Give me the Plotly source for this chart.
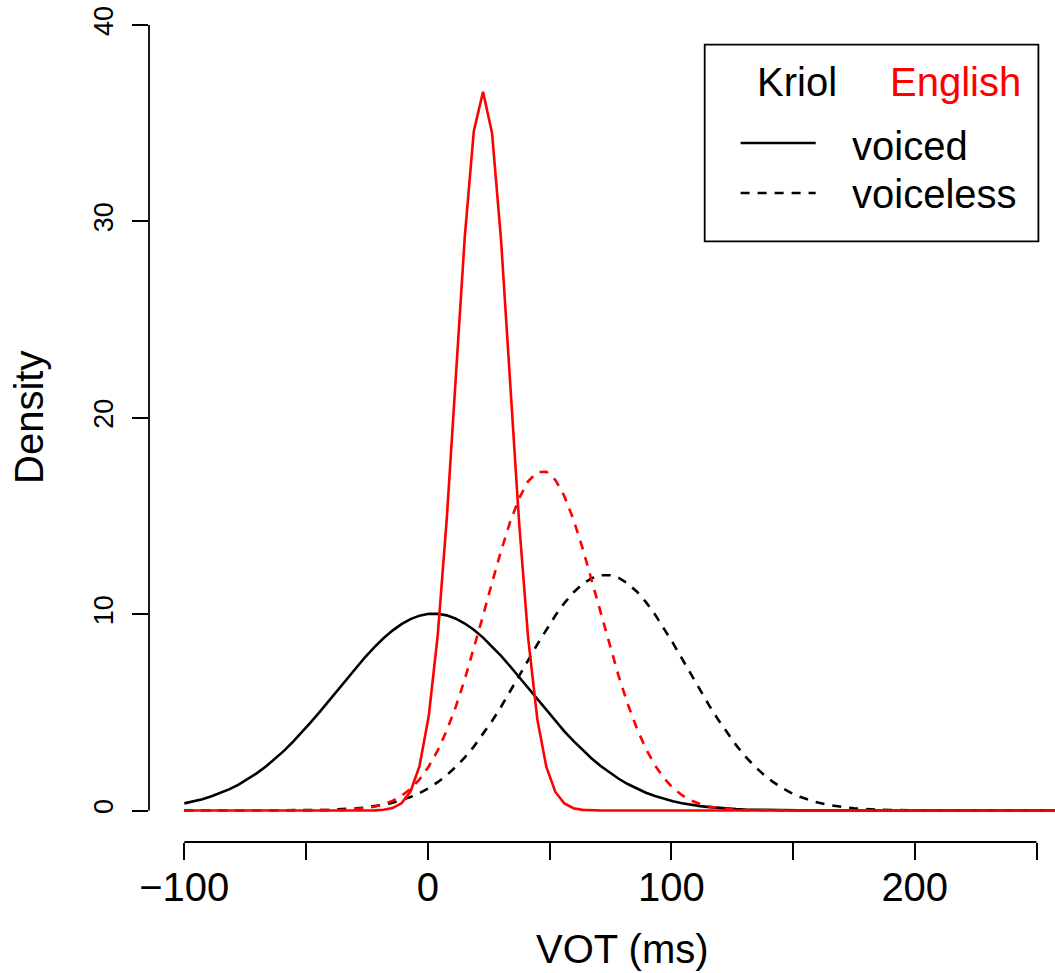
import plotly.graph_objects as go

# ---- data ----
vot = [-100.0, -96.3, -92.6, -88.8, -85.1, -81.4, -77.7, -74.0, -70.3, -66.5,
       -62.8, -59.1, -55.4, -51.7, -48.0, -44.2, -40.5, -36.8, -33.1, -29.4,
       -25.7, -21.9, -18.2, -14.5, -10.8, -7.1, -3.4, 0.4, 4.1, 7.8,
       11.5, 15.2, 18.9, 22.7, 26.4, 30.1, 33.8, 37.5, 41.2, 45.0,
       48.7, 52.4, 56.1, 59.8, 63.5, 67.3, 71.0, 74.7, 78.4, 82.1,
       85.9, 89.6, 93.3, 97.0, 100.7, 104.4, 108.2, 111.9, 115.6, 119.3,
       123.0, 126.7, 130.5, 134.2, 137.9, 141.6, 145.3, 149.0, 152.8, 156.5,
       160.2, 163.9, 167.6, 171.3, 175.1, 178.8, 182.5, 186.2, 189.9, 193.6,
       197.4, 201.1, 204.8, 208.5, 212.2, 215.9, 219.7, 223.4, 227.1, 230.8,
       234.5, 238.2, 242.0, 245.7, 249.4, 253.1, 256.8, 260.5, 264.3, 268.0]

kriol_voiced = [0.366, 0.464, 0.581, 0.727, 0.895, 1.093, 1.324, 1.589, 1.892, 2.241,
                2.622, 3.039, 3.493, 3.982, 4.499, 5.053, 5.611, 6.174, 6.738, 7.290,
                7.817, 8.324, 8.772, 9.165, 9.493, 9.748, 9.924, 10.017, 10.021, 9.938,
                9.771, 9.525, 9.205, 8.806, 8.363, 7.872, 7.348, 6.798, 6.237, 5.656,
                5.098, 4.557, 4.036, 3.546, 3.087, 2.654, 2.271, 1.926, 1.620, 1.351,
                1.110, 0.910, 0.739, 0.595, 0.475, 0.376, 0.293, 0.228, 0.176, 0.134,
                0.102, 0.076, 0.056, 0.042, 0.031, 0.022, 0.016, 0.011, 0.008, 0.005,
                0.004, 0.003, 0.002, 0.001, 0.0, 0.0, 0.0, 0.0, 0.0, 0.0,
                0.0, 0.0, 0.0, 0.0, 0.0, 0.0, 0.0, 0.0, 0.0, 0.0,
                0.0, 0.0, 0.0, 0.0, 0.0, 0.0, 0.0, 0.0, 0.0, 0.0]

kriol_voiceless = [0.0, 0.0, 0.0, 0.0, 0.0, 0.0, 0.0, 0.0, 0.0, 0.0,
                   0.001, 0.003, 0.006, 0.012, 0.018, 0.026, 0.039, 0.056, 0.080, 0.112,
                   0.156, 0.217, 0.295, 0.396, 0.525, 0.688, 0.891, 1.146, 1.447, 1.806,
                   2.225, 2.708, 3.257, 3.888, 4.560, 5.285, 6.050, 6.845, 7.648, 8.462,
                   9.223, 9.932, 10.566, 11.104, 11.527, 11.827, 11.979, 11.985, 11.845, 11.566,
                   11.142, 10.614, 9.988, 9.284, 8.525, 7.734, 6.910, 6.115, 5.346, 4.618,
                   3.940, 3.320, 2.750, 2.262, 1.837, 1.475, 1.169, 0.916, 0.703, 0.538,
                   0.406, 0.302, 0.223, 0.162, 0.115, 0.082, 0.057, 0.040, 0.027, 0.018,
                   0.012, 0.008, 0.005, 0.003, 0.002, 0.001, 0.0, 0.0, 0.0, 0.0,
                   0.0, 0.0, 0.0, 0.0, 0.0, 0.0, 0.0, 0.0, 0.0, 0.0]

english_voiced = [0.0, 0.0, 0.0, 0.0, 0.0, 0.0, 0.0, 0.0, 0.0, 0.0,
                  0.0, 0.0, 0.0, 0.0, 0.0, 0.0, 0.0, 0.0, 0.0, 0.0,
                  0.002, 0.011, 0.039, 0.127, 0.371, 0.970, 2.266, 4.817, 8.949, 14.86,
                  22.04, 29.22, 34.59, 36.60, 34.49, 29.03, 21.84, 14.68, 8.81, 4.64,
                  2.218, 0.947, 0.361, 0.123, 0.037, 0.010, 0.002, 0.0, 0.0, 0.0,
                  0.0, 0.0, 0.0, 0.0, 0.0, 0.0, 0.0, 0.0, 0.0, 0.0,
                  0.0, 0.0, 0.0, 0.0, 0.0, 0.0, 0.0, 0.0, 0.0, 0.0,
                  0.0, 0.0, 0.0, 0.0, 0.0, 0.0, 0.0, 0.0, 0.0, 0.0,
                  0.0, 0.0, 0.0, 0.0, 0.0, 0.0, 0.0, 0.0, 0.0, 0.0,
                  0.0, 0.0, 0.0, 0.0, 0.0, 0.0, 0.0, 0.0, 0.0, 0.0]

english_voiceless = [0.0, 0.0, 0.0, 0.0, 0.0, 0.0, 0.0, 0.0, 0.0, 0.0,
                     0.0, 0.0, 0.0, 0.0, 0.0, 0.007, 0.013, 0.024, 0.042, 0.071,
                     0.120, 0.199, 0.318, 0.494, 0.748, 1.104, 1.588, 2.246, 3.065, 4.080,
                     5.289, 6.685, 8.233, 9.930, 11.608, 13.224, 14.686, 15.892, 16.762, 17.234,
                     17.253, 16.833, 16.004, 14.831, 13.392, 11.743, 10.065, 8.408, 6.846, 5.432,
                     4.171, 3.140, 2.304, 1.649, 1.149, 0.780, 0.511, 0.330, 0.207, 0.127,
                     0.076, 0.044, 0.025, 0.014, 0.007, 0.004, 0.0, 0.0, 0.0, 0.0,
                     0.0, 0.0, 0.0, 0.0, 0.0, 0.0, 0.0, 0.0, 0.0, 0.0,
                     0.0, 0.0, 0.0, 0.0, 0.0, 0.0, 0.0, 0.0, 0.0, 0.0,
                     0.0, 0.0, 0.0, 0.0, 0.0, 0.0, 0.0, 0.0, 0.0, 0.0]

x_ticks = [-100, -50, 0, 50, 100, 150, 200, 250]
x_tick_labels = ["\u2212100", "", "0", "", "100", "", "200", ""]
y_ticks = [0, 10, 20, 30, 40]
y_tick_labels = ["0", "10", "20", "30", "40"]

x_label = "VOT (ms)"
y_label = "Density"
legend_langs = ["Kriol", "English"]
legend_types = ["voiced", "voiceless"]

# ---- geometry (pixels of the 1055x973 canvas) ----
W, H = 1055, 973
L, R, T, B = 149, 0, 0, 131
PW, PH = W - L - R, H - T - B
FONT = "Liberation Sans, Arial, Helvetica, sans-serif"
BLACK, RED = "#000000", "#ff0000"
LW = 2.6
DASH = "9px,8px"


def px(xp):
    return (xp - L) / PW


def py(yp):
    return (H - B - yp) / PH


fig = go.Figure()
series = [
    (kriol_voiced, BLACK, "solid"),
    (kriol_voiceless, BLACK, DASH),
    (english_voiced, RED, "solid"),
    (english_voiceless, RED, DASH),
]
for ys, col, dash in series:
    fig.add_trace(go.Scatter(x=vot, y=ys, mode="lines",
                             line=dict(color=col, width=LW, dash=dash),
                             showlegend=False, hoverinfo="skip"))

shapes = []
# axis lines spanning first to last tick (R style)
shapes.append(dict(type="line", xref="x", yref="paper",
                   x0=x_ticks[0], x1=x_ticks[-1], y0=0, y1=0,
                   line=dict(color=BLACK, width=1.8)))
shapes.append(dict(type="line", xref="paper", yref="y",
                   x0=0, x1=0, y0=y_ticks[0], y1=y_ticks[-1],
                   line=dict(color=BLACK, width=1.8)))
# legend box
shapes.append(dict(type="rect", xref="paper", yref="paper",
                   x0=px(704.7), x1=px(1038.4), y0=py(241.4), y1=py(44.6),
                   line=dict(color=BLACK, width=1.8), fillcolor="white"))
# legend line samples
shapes.append(dict(type="line", xref="paper", yref="paper",
                   x0=px(740.6), x1=px(815.7), y0=py(143), y1=py(143),
                   line=dict(color=BLACK, width=LW)))
shapes.append(dict(type="line", xref="paper", yref="paper",
                   x0=px(740.6), x1=px(815.7), y0=py(193), y1=py(193),
                   line=dict(color=BLACK, width=LW, dash=DASH)))

annotations = [
    dict(text=legend_langs[0], x=px(796.5), y=py(82), xref="paper", yref="paper",
         xanchor="center", yanchor="middle", showarrow=False,
         font=dict(family=FONT, size=40, color=BLACK)),
    dict(text=legend_langs[1], x=px(955), y=py(82), xref="paper", yref="paper",
         xanchor="center", yanchor="middle", showarrow=False,
         font=dict(family=FONT, size=40, color=RED)),
    dict(text=legend_types[0], x=px(850), y=py(146), xref="paper", yref="paper",
         xanchor="left", yanchor="middle", showarrow=False,
         font=dict(family=FONT, size=40, color=BLACK)),
    dict(text=legend_types[1], x=px(850), y=py(194), xref="paper", yref="paper",
         xanchor="left", yanchor="middle", showarrow=False,
         font=dict(family=FONT, size=40, color=BLACK)),
    dict(text=x_label, x=px(622), y=py(949), xref="paper", yref="paper",
         xanchor="center", yanchor="middle", showarrow=False,
         font=dict(family=FONT, size=40, color=BLACK)),
    dict(text=y_label, x=px(29), y=py(417), xref="paper", yref="paper",
         xanchor="center", yanchor="middle", showarrow=False, textangle=-90,
         font=dict(family=FONT, size=40, color=BLACK)),
]

fig.update_layout(
    width=W, height=H,
    margin=dict(l=L, r=R, t=T, b=B, pad=0),
    paper_bgcolor="white", plot_bgcolor="white",
    font=dict(family=FONT, color=BLACK),
    shapes=shapes, annotations=annotations,
    xaxis=dict(range=[-114.5, 257.6], tickmode="array", tickvals=x_ticks,
               ticktext=x_tick_labels, ticks="outside", ticklen=16.6,
               tickwidth=1.8, tickcolor=BLACK, showline=False, showgrid=False,
               zeroline=False, ticklabelstandoff=-7,
               tickfont=dict(family=FONT, size=40, color=BLACK)),
    yaxis=dict(range=[-1.6, 41.27], tickmode="array", tickvals=y_ticks,
               ticktext=y_tick_labels, ticks="outside", ticklen=16.5,
               tickwidth=1.8, tickcolor=BLACK, showline=False, showgrid=False,
               zeroline=False, tickangle=-90, ticklabelstandoff=8,
               tickfont=dict(family=FONT, size=27, color=BLACK)),
)

fig.write_html("out.html")
